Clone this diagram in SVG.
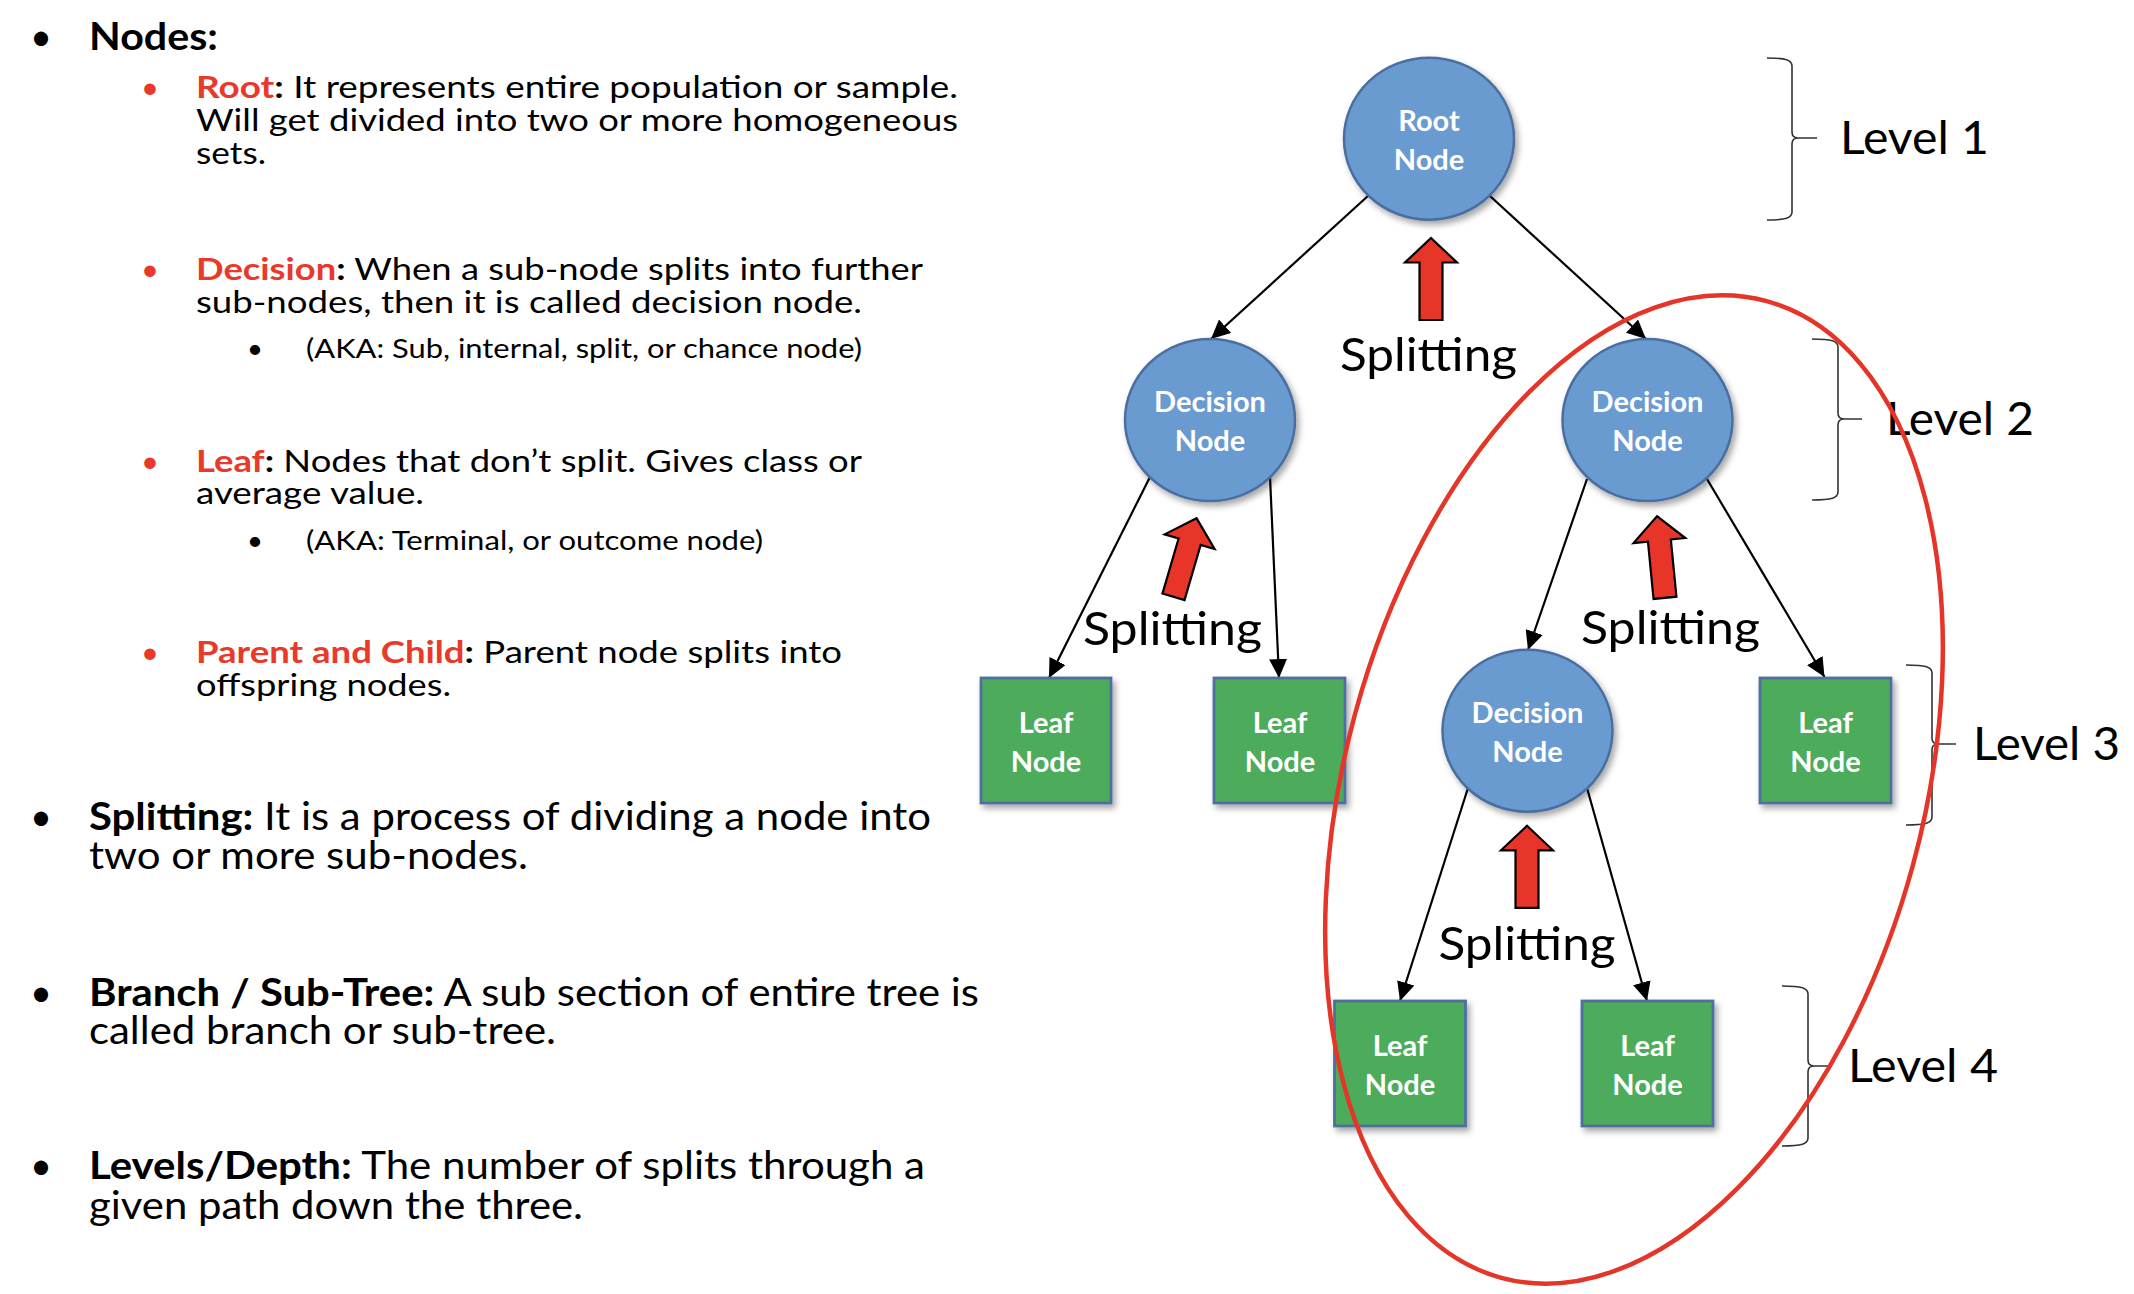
<svg xmlns="http://www.w3.org/2000/svg" xmlns:xlink="http://www.w3.org/1999/xlink" width="2134" height="1294" viewBox="0 0 2134 1294">
<style>
.t{font-family:Lato,'Liberation Sans',sans-serif;fill:#000}
.main{font-size:38px}
.sub{font-size:31px}
.subsub{font-size:27.5px}
.b{font-weight:bold}
.red{fill:#E8392A}
.nt{font-family:Lato,'Liberation Sans',sans-serif;font-size:29px;font-weight:bold;fill:#fff;text-anchor:middle}
.lbl{font-family:Lato,'Liberation Sans',sans-serif;font-size:47px;fill:#000}
.circ{fill:#6A9BD0;stroke:#4A6E9F;stroke-width:2.5}
.leaf{fill:#4EAC5B;stroke:#4F6F9F;stroke-width:2.8}
.edge{stroke:#000;stroke-width:2.2;fill:none;marker-end:url(#ah)}
.brace{stroke:#333;stroke-width:1.6;fill:none}
.split{fill:#E8352A;stroke:#000;stroke-width:2.2;stroke-linejoin:miter}
.ring{fill:none;stroke:#E53528;stroke-width:4.5}
</style>
<defs>
<filter id="sh" x="-20%" y="-20%" width="150%" height="150%">
<feDropShadow dx="3" dy="4" stdDeviation="3" flood-color="#000" flood-opacity="0.35"/>
</filter>
<marker id="ah" markerUnits="userSpaceOnUse" markerWidth="20" markerHeight="18" refX="19" refY="9" orient="auto">
<path d="M0,0 L19,9 L0,18 Z" fill="#000"/>
</marker>
<path id="up" d="M0,-41 L26,-16.5 L11.5,-16.5 L11.5,41 L-11.5,41 L-11.5,-16.5 L-26,-16.5 Z"/>
</defs>
<rect width="2134" height="1294" fill="#fff"/>

<g id="left-text">
<text class="t main" x="41" y="49.6" text-anchor="middle">•</text>
<text class="t main b" x="89" y="49.6" textLength="129" lengthAdjust="spacingAndGlyphs">Nodes:</text>

<text class="t sub red" x="150" y="98" text-anchor="middle">•</text>
<text class="t sub" x="196" y="98" textLength="762" lengthAdjust="spacingAndGlyphs"><tspan class="b red">Root</tspan><tspan class="b">:</tspan> It represents entire population or sample.</text>
<text class="t sub" x="196" y="131" textLength="762" lengthAdjust="spacingAndGlyphs">Will get divided into two or more homogeneous</text>
<text class="t sub" x="196" y="164" textLength="70" lengthAdjust="spacingAndGlyphs">sets.</text>

<text class="t sub red" x="150" y="280" text-anchor="middle">•</text>
<text class="t sub" x="196" y="280" textLength="727" lengthAdjust="spacingAndGlyphs"><tspan class="b red">Decision</tspan><tspan class="b">:</tspan> When a sub-node splits into further</text>
<text class="t sub" x="196" y="313" textLength="666" lengthAdjust="spacingAndGlyphs">sub-nodes, then it is called decision node.</text>
<text class="t subsub" x="255" y="358" text-anchor="middle">•</text>
<text class="t subsub" x="306" y="358" textLength="556" lengthAdjust="spacingAndGlyphs">(AKA: Sub, internal, split, or chance node)</text>

<text class="t sub red" x="150" y="472" text-anchor="middle">•</text>
<text class="t sub" x="196" y="472" textLength="666" lengthAdjust="spacingAndGlyphs"><tspan class="b red">Leaf</tspan><tspan class="b">:</tspan> Nodes that don’t split. Gives class or</text>
<text class="t sub" x="196" y="504" textLength="228" lengthAdjust="spacingAndGlyphs">average value.</text>
<text class="t subsub" x="255" y="550" text-anchor="middle">•</text>
<text class="t subsub" x="306" y="550" textLength="457" lengthAdjust="spacingAndGlyphs">(AKA: Terminal, or outcome node)</text>

<text class="t sub red" x="150" y="663" text-anchor="middle">•</text>
<text class="t sub" x="196" y="663" textLength="646" lengthAdjust="spacingAndGlyphs"><tspan class="b red">Parent and Child</tspan><tspan class="b">:</tspan> Parent node splits into</text>
<text class="t sub" x="196" y="696" textLength="255" lengthAdjust="spacingAndGlyphs">offspring nodes.</text>

<text class="t main" x="41" y="830" text-anchor="middle">•</text>
<text class="t main" x="89" y="830" textLength="842" lengthAdjust="spacingAndGlyphs"><tspan class="b">Splitting:</tspan> It is a process of dividing a node into</text>
<text class="t main" x="89" y="869" textLength="439" lengthAdjust="spacingAndGlyphs">two or more sub-nodes.</text>

<text class="t main" x="41" y="1005.5" text-anchor="middle">•</text>
<text class="t main" x="89" y="1005.5" textLength="890" lengthAdjust="spacingAndGlyphs"><tspan class="b">Branch / Sub-Tree:</tspan> A sub section of entire tree is</text>
<text class="t main" x="89" y="1044" textLength="467" lengthAdjust="spacingAndGlyphs">called branch or sub-tree.</text>

<text class="t main" x="41" y="1179" text-anchor="middle">•</text>
<text class="t main" x="89" y="1179" textLength="836" lengthAdjust="spacingAndGlyphs"><tspan class="b">Levels/Depth:</tspan> The number of splits through a</text>
<text class="t main" x="89" y="1218.5" textLength="494" lengthAdjust="spacingAndGlyphs">given path down the three.</text>
</g>

<g id="connectors">
<line class="edge" x1="1369" y1="195" x2="1211" y2="339"/>
<line class="edge" x1="1490" y1="196" x2="1646" y2="339"/>
<line class="edge" x1="1150" y1="477" x2="1049" y2="678"/>
<line class="edge" x1="1270" y1="477" x2="1279" y2="678"/>
<line class="edge" x1="1587" y1="479" x2="1528" y2="650"/>
<line class="edge" x1="1707" y1="479" x2="1824.5" y2="677"/>
<line class="edge" x1="1468" y1="788" x2="1400" y2="1001"/>
<line class="edge" x1="1587" y1="788" x2="1647" y2="1001"/>
</g>

<g id="root-node">
<ellipse class="circ" cx="1429" cy="138.7" rx="85" ry="81" filter="url(#sh)"/>
<text class="nt" x="1429" y="130.7">Root</text>
<text class="nt" x="1429" y="170">Node</text>
</g>
<g id="decision-left">
<ellipse class="circ" cx="1210" cy="420" rx="85" ry="81" filter="url(#sh)"/>
<text class="nt" x="1210" y="412">Decision</text>
<text class="nt" x="1210" y="451">Node</text>
</g>
<g id="decision-right">
<ellipse class="circ" cx="1647.5" cy="420" rx="85" ry="81" filter="url(#sh)"/>
<text class="nt" x="1647.5" y="412">Decision</text>
<text class="nt" x="1647.5" y="451">Node</text>
</g>
<g id="decision-3">
<ellipse class="circ" cx="1527.5" cy="730.7" rx="85" ry="81" filter="url(#sh)"/>
<text class="nt" x="1527.5" y="722.7">Decision</text>
<text class="nt" x="1527.5" y="761.7">Node</text>
</g>
<g id="leaf-1">
<rect class="leaf" x="981" y="678" width="130" height="125" filter="url(#sh)"/>
<text class="nt" x="1046" y="732.5">Leaf</text>
<text class="nt" x="1046" y="771.5">Node</text>
</g>
<g id="leaf-2">
<rect class="leaf" x="1214" y="678" width="131" height="125" filter="url(#sh)"/>
<text class="nt" x="1280" y="732.5">Leaf</text>
<text class="nt" x="1280" y="771.5">Node</text>
</g>
<g id="leaf-3">
<rect class="leaf" x="1760" y="678" width="131" height="125" filter="url(#sh)"/>
<text class="nt" x="1825.5" y="732.5">Leaf</text>
<text class="nt" x="1825.5" y="771.5">Node</text>
</g>
<g id="leaf-4">
<rect class="leaf" x="1334.5" y="1001" width="131" height="125" filter="url(#sh)"/>
<text class="nt" x="1400" y="1055.5">Leaf</text>
<text class="nt" x="1400" y="1094.5">Node</text>
</g>
<g id="leaf-5">
<rect class="leaf" x="1582" y="1001" width="131" height="125" filter="url(#sh)"/>
<text class="nt" x="1647.5" y="1055.5">Leaf</text>
<text class="nt" x="1647.5" y="1094.5">Node</text>
</g>

<g id="splitting">
<use href="#up" class="split" transform="translate(1431,279)"/>
<use href="#up" class="split" transform="translate(1185,557.5) rotate(16.3)"/>
<use href="#up" class="split" transform="translate(1661,557) rotate(-5.6)"/>
<use href="#up" class="split" transform="translate(1527,866.8)"/>
<text class="lbl" x="1340" y="371" textLength="177" lengthAdjust="spacingAndGlyphs">Splitting</text>
<text class="lbl" x="1083" y="645" textLength="179" lengthAdjust="spacingAndGlyphs">Splitting</text>
<text class="lbl" x="1581" y="644" textLength="179" lengthAdjust="spacingAndGlyphs">Splitting</text>
<text class="lbl" x="1438.5" y="960" textLength="177" lengthAdjust="spacingAndGlyphs">Splitting</text>
</g>

<g id="levels">
<path class="brace" d="M1767,58 C1786,58 1792,60 1792,66 L1792,132 Q1792,138 1798,138 L1817,138 M1798,138 Q1792,138 1792,144 L1792,212 C1792,218 1786,220 1767,220"/>
<text class="lbl" x="1840" y="154" textLength="149" lengthAdjust="spacingAndGlyphs">Level 1</text>
<path class="brace" d="M1812,339 C1832,339 1838,341 1838,347 L1838,413 Q1838,419 1844,419 L1862,419 M1844,419 Q1838,419 1838,425 L1838,492 C1838,498 1832,500 1812,500"/>
<text class="lbl" x="1886" y="435" textLength="148" lengthAdjust="spacingAndGlyphs">Level 2</text>
<path class="brace" d="M1906,665 C1926,665 1932,667 1932,673 L1932,738 Q1932,744 1938,744 L1956,744 M1938,744 Q1932,744 1932,750 L1932,817 C1932,823 1926,825 1906,825"/>
<text class="lbl" x="1973" y="760" textLength="147" lengthAdjust="spacingAndGlyphs">Level 3</text>
<path class="brace" d="M1782,986 C1802,986 1808,988 1808,994 L1808,1060 Q1808,1066 1814,1066 L1832,1066 M1814,1066 Q1808,1066 1808,1072 L1808,1138 C1808,1144 1802,1146 1782,1146"/>
<text class="lbl" x="1848" y="1081.6" textLength="150" lengthAdjust="spacingAndGlyphs">Level 4</text>
</g>

<g id="subtree-ring">
<ellipse class="ring" cx="1634" cy="789.5" rx="289" ry="506" transform="rotate(15.2 1634 789.5)"/>
</g>
</svg>
